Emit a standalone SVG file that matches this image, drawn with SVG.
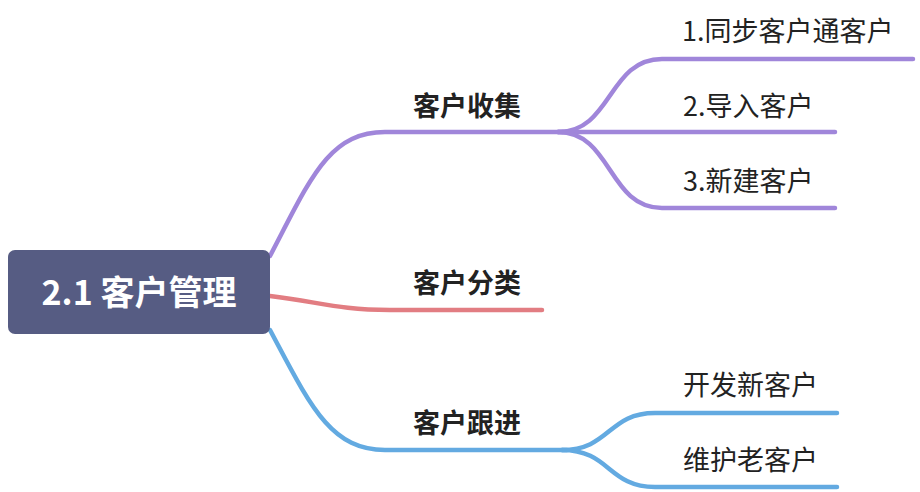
<svg xmlns="http://www.w3.org/2000/svg" width="920" height="492" viewBox="0 0 920 492">
<style>
.br{fill:none;stroke-width:4.5;stroke-linecap:round;stroke-linejoin:round}
.p{stroke:#A086DA}
.r{stroke:#E27D82}
.b{stroke:#63AAE1}
.t{font-family:"Noto Sans CJK SC","Noto Sans",sans-serif;font-size:27px;fill:#222222}
.l1{font-weight:bold}
.root{font-family:"Noto Sans CJK SC","Noto Sans",sans-serif;font-size:34px;font-weight:bold;fill:#FFFFFF}
</style>
<rect width="920" height="492" fill="#FFFFFF"/>
<g id="connectors">
<path class="br p" d="M270,256 C310,180 328,132 385,132 H563"/>
<path class="br p" d="M558,132 C612,132 608,59 662,59 H913"/>
<path class="br p" d="M558,132 H835"/>
<path class="br p" d="M558,132 C612,132 608,208 662,208 H835"/>
<path class="br r" d="M270,296 C320,302 338,310 390,310 H542"/>
<path class="br b" d="M270,330 C310,405 330,450 385,450 H567"/>
<path class="br b" d="M562,450 C610,450 608,413 655,413 H837"/>
<path class="br b" d="M562,450 C610,450 608,487 655,487 H837"/>
</g>
<g id="root">
<rect x="8" y="250" width="262" height="84" rx="7" fill="#565C83"/>
<text class="root" x="139" y="305" text-anchor="middle">2.1 客户管理</text>
</g>
<g id="n-collect"><text class="t l1" x="413" y="116">客户收集</text></g>
<g id="n-sync"><text class="t" x="682" y="41">1.同步客户通客户</text></g>
<g id="n-import"><text class="t" x="683" y="116">2.导入客户</text></g>
<g id="n-new"><text class="t" x="683" y="191">3.新建客户</text></g>
<g id="n-classify"><text class="t l1" x="413" y="293">客户分类</text></g>
<g id="n-follow"><text class="t l1" x="413" y="433">客户跟进</text></g>
<g id="n-develop"><text class="t" x="683" y="395">开发新客户</text></g>
<g id="n-maintain"><text class="t" x="683" y="470">维护老客户</text></g>
</svg>
